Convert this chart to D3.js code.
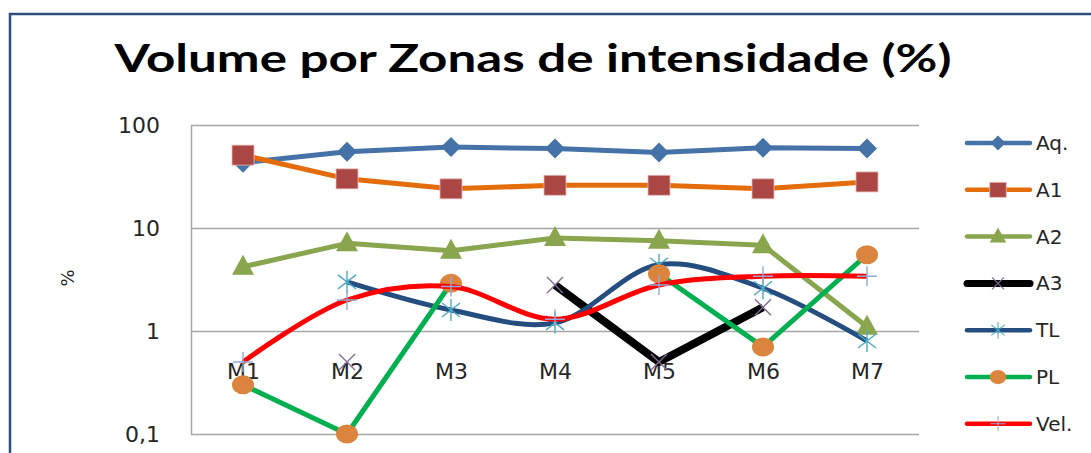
<!DOCTYPE html>
<html>
<head>
<meta charset="utf-8">
<script src="https://cdn.jsdelivr.net/npm/d3@7"></script>
<style>
  body { margin: 0; background: #fff; }
  svg { display: block; }
</style>
</head>
<body>
<script>
// chart size
var w = 1091;
var h = 453;

// data
var categories = ["M1", "M2", "M3", "M4", "M5", "M6", "M7"];
var aq  = [43, 55, 61, 59, 54, 60, 59];
var a1  = [51, 30, 24, 26, 26, 24, 28];
var a2  = [4.2, 7.1, 6.0, 8.0, 7.5, 6.8, 1.1];
var a3  = [null, 0.5, null, 2.8, 0.5, 1.7, null];
var tl  = [null, 3.0, 1.6, 1.2, 4.4, 2.6, 0.8];
var pl  = [0.3, 0.1, 2.9, null, 3.6, 0.7, 5.5];
var vel = [0.5, 2.0, 2.7, 1.3, 2.8, 3.4, 3.4];
var seriesNames = ["Aq.", "A1", "A2", "A3", "TL", "PL", "Vel."];
var yTicks = [0.1, 1, 10, 100];
var yTickLabels = ["0,1", "1", "10", "100"];

// how each series looks
var styles = [
  { values: aq,  line: "#4572A7", width: 5, marker: "diamond", mcolor: "#4572A7" },
  { values: a1,  line: "#E46C0A", width: 5, marker: "square",  mcolor: "#AA4643" },
  { values: a2,  line: "#89A54E", width: 5, marker: "triangle", mcolor: "#89A54E" },
  { values: a3,  line: "#000000", width: 8, marker: "x",       mcolor: "#80699B" },
  { values: tl,  line: "#254E80", width: 5, marker: "star",    mcolor: "#4BACC6", smooth: true },
  { values: pl,  line: "#00B050", width: 5, marker: "circle",  mcolor: "#DB843D" },
  { values: vel, line: "#FF0000", width: 5, marker: "plus",    mcolor: "#93A9D6", smooth: true }
];

var plot = { left: 191, right: 919, top: 125, bottom: 434 };

var svg = d3.select("body")
    .append("svg")
    .attr("width", w)
    .attr("height", h);

svg.append("rect")
    .attr("width", w).attr("height", h)
    .attr("fill", "#fff");

// outer frame
svg.append("rect")
    .attr("x", 10).attr("y", 14)
    .attr("width", 1100).attr("height", 470)
    .attr("fill", "none")
    .attr("stroke", "#2C4D7D")
    .attr("stroke-width", 2.5);

var x = d3.scalePoint()
    .domain(categories)
    .range([plot.left, plot.right])
    .padding(0.5);

var y = d3.scaleLog()
    .domain([0.1, 100])
    .range([plot.bottom, plot.top]);

// title
svg.append("text")
    .attr("x", 533)
    .attr("y", 72)
    .attr("text-anchor", "middle")
    .attr("font-family", "Lato, 'Open Sans', sans-serif")
    .attr("font-weight", "bold")
    .attr("font-size", "39px")
    .attr("textLength", 837)
    .attr("lengthAdjust", "spacingAndGlyphs")
    .attr("fill", "#000")
    .text("Volume por Zonas de intensidade (%)");

// gridlines
svg.append("g")
    .attr("transform", "translate(" + plot.left + ",0)")
    .call(d3.axisLeft(y).tickValues(yTicks).tickSize(-(plot.right - plot.left)).tickFormat(""))
    .call(function(g) { g.select(".domain").remove(); })
    .selectAll("line")
    .attr("stroke", "#A6A6A6")
    .attr("stroke-width", 1.5);

// value axis
var yAxis = svg.append("g")
    .attr("transform", "translate(" + plot.left + ",0)")
    .call(d3.axisLeft(y)
      .tickValues(yTicks)
      .tickFormat(function(d, i) { return yTickLabels[i]; })
      .tickSize(0)
      .tickSizeOuter(0)
      .tickPadding(31));
yAxis.select(".domain").attr("stroke", "#A6A6A6").attr("stroke-width", 1.5);
yAxis.selectAll("text")
    .attr("font-family", "'DejaVu Sans', sans-serif")
    .attr("font-size", "22px")
    .attr("fill", "#262626");

// category axis crosses at 1
var xAxis = svg.append("g")
    .attr("transform", "translate(0," + y(1) + ")")
    .call(d3.axisBottom(x).tickSize(0).tickPadding(32));
xAxis.select(".domain").remove();
xAxis.selectAll("text")
    .attr("font-family", "'DejaVu Sans', sans-serif")
    .attr("font-size", "22px")
    .attr("fill", "#262626");

// axis title
svg.append("text")
    .attr("transform", "translate(74,278) rotate(-90)")
    .attr("text-anchor", "middle")
    .attr("font-family", "'DejaVu Sans', sans-serif")
    .attr("font-size", "18px")
    .attr("fill", "#262626")
    .text("%");

// marker shapes, k scales them
function drawMarker(g, type, color, k) {
  if (type == "diamond") {
    g.append("path").attr("d", "M0,-10L10,0L0,10L-10,0Z").attr("fill", color)
      .attr("transform", "scale(" + k + ")");
  } else if (type == "square") {
    g.append("rect").attr("x", -11 * k).attr("y", -10 * k)
      .attr("width", 22 * k).attr("height", 20 * k)
      .attr("fill", color).attr("stroke", "#E6B9B8").attr("stroke-width", 0.8);
  } else if (type == "triangle") {
    g.append("path").attr("d", "M0,-12L11,8L-11,8Z").attr("fill", color)
      .attr("transform", "scale(" + k + ")");
  } else if (type == "circle") {
    g.append("ellipse").attr("rx", 11 * k).attr("ry", 9.5 * k).attr("fill", color);
  } else if (type == "x") {
    g.append("path").attr("d", "M-8,-8L8,8M-8,8L8,-8")
      .attr("transform", "scale(" + k + ")")
      .attr("stroke", color).attr("stroke-width", 1.4).attr("fill", "none");
  } else if (type == "star") {
    g.append("path").attr("d", "M-9,-7L9,7M-9,7L9,-7M0,-11L0,11")
      .attr("transform", "scale(" + k + ")")
      .attr("stroke", color).attr("stroke-width", 1.4).attr("fill", "none");
  } else if (type == "plus") {
    g.append("path").attr("d", "M-10,0L10,0M0,-10L0,10")
      .attr("transform", "scale(" + k + ")")
      .attr("stroke", color).attr("stroke-width", 1.4).attr("fill", "none");
  }
}

// series
styles.forEach(function(s) {
  var pts = categories.map(function(c, i) { return { c: c, v: s.values[i] }; });
  var line = d3.line()
      .defined(function(d) { return d.v != null; })
      .x(function(d) { return x(d.c); })
      .y(function(d) { return y(d.v); })
      .curve(s.smooth ? d3.curveCatmullRom.alpha(0.5) : d3.curveLinear);

  var g = svg.append("g");
  g.append("path")
      .datum(pts)
      .attr("d", line)
      .attr("fill", "none")
      .attr("stroke", s.line)
      .attr("stroke-width", s.width)
      .attr("stroke-linejoin", "round")
      .attr("stroke-linecap", "butt");

  g.selectAll("g.m")
      .data(pts.filter(function(d) { return d.v != null; }))
      .enter()
      .append("g")
      .attr("class", "m")
      .attr("transform", function(d) { return "translate(" + x(d.c) + "," + y(d.v) + ")"; })
      .each(function() { drawMarker(d3.select(this), s.marker, s.mcolor, 1); });
});

// legend
var legend = svg.append("g");
seriesNames.forEach(function(name, i) {
  var s = styles[i];
  var ly = 143 + i * 46.8;
  legend.append("line")
      .attr("x1", 967).attr("x2", 1030)
      .attr("y1", ly).attr("y2", ly)
      .attr("stroke", s.line)
      .attr("stroke-width", s.width == 8 ? 7 : 4.5)
      .attr("stroke-linecap", "round");
  var m = legend.append("g").attr("transform", "translate(998," + ly + ")");
  drawMarker(m, s.marker, s.mcolor, 0.75);
  legend.append("text")
      .attr("x", 1036)
      .attr("y", ly + 7)
      .attr("font-family", "'DejaVu Sans', sans-serif")
      .attr("font-size", "20px")
      .attr("fill", "#262626")
      .text(name);
});
</script>
</body>
</html>
